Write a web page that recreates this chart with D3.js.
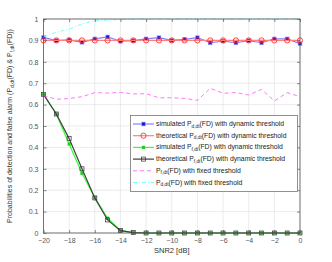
<!DOCTYPE html>
<html>
<head>
<meta charset="utf-8">
<script src="https://cdn.jsdelivr.net/npm/d3@7"></script>
<style>
body { margin: 0; background: #fff; }
text { font-family: "Liberation Sans", Arial, sans-serif; }
</style>
</head>
<body>
<script>
var width = 332;
var height = 262;

// data
var snr = [-20,-19,-18,-17,-16,-15,-14,-13,-12,-11,-10,-9,-8,-7,-6,-5,-4,-3,-2,-1,0];
var simPd = [0.914,0.899,0.902,0.891,0.907,0.916,0.896,0.899,0.907,0.913,0.900,0.905,0.913,0.889,0.897,0.889,0.899,0.889,0.907,0.907,0.885];
var theoPd = [0.9,0.9,0.9,0.9,0.9,0.9,0.9,0.9,0.9,0.9,0.9,0.9,0.9,0.9,0.9,0.9,0.9,0.9,0.9,0.9,0.9];
var simPf = [0.648,0.556,0.416,0.279,0.165,0.069,0.012,0.002,0,0,0,0,0,0,0,0,0,0,0,0,0];
var theoPf = [0.648,0.556,0.441,0.300,0.164,0.061,0.011,0.002,0,0,0,0,0,0,0,0,0,0,0,0,0];
var fixedPf = [0.642,0.625,0.628,0.637,0.656,0.654,0.657,0.650,0.651,0.632,0.632,0.629,0.620,0.676,0.653,0.656,0.645,0.671,0.617,0.656,0.637];
var fixedPd = [0.917,0.938,0.952,0.977,0.992,0.995,0.998,1,1,1,1,1,1,1,1,1,1,1,1,1,1];
var xTicks = [-20,-18,-16,-14,-12,-10,-8,-6,-4,-2,0];
var yTicks = [0,0.1,0.2,0.3,0.4,0.5,0.6,0.7,0.8,0.9,1];

var series = [
  {name: ["simulated P", "d,dt", "(FD) with dynamic threshold"], values: simPd, color: "#8080ff", marker: "bsq", dash: null},
  {name: ["theoretical P", "d,dt", "(FD) with dynamic threshold"], values: theoPd, color: "#ff8080", marker: "circle", dash: null},
  {name: ["simulated P", "f,dt", "(FD) with dynamic threshold"], values: simPf, color: "#33ff33", marker: "gx", dash: null},
  {name: ["theoretical P", "f,dt", "(FD) with dynamic threshold"], values: theoPf, color: "#404040", marker: "square", dash: null},
  {name: ["P", "f,dt", "(FD) with fixed threshold"], values: fixedPf, color: "#ff66ff", marker: null, dash: "4,3"},
  {name: ["P", "d,dt", "(FD) with fixed threshold"], values: fixedPd, color: "#66ffff", marker: null, dash: "4,2,1,2"}
];

var svg = d3.select("body").append("svg")
  .attr("width", width)
  .attr("height", height);

var x = d3.scaleLinear().domain([-20, 0]).range([43.5, 300]);
var y = d3.scaleLinear().domain([0, 1]).range([233, 19]);

// grid
svg.selectAll(".gx").data(xTicks).enter().append("line")
  .attr("x1", d => x(d)).attr("x2", d => x(d))
  .attr("y1", y(0)).attr("y2", y(1))
  .attr("stroke", "#e4e4e4").attr("stroke-width", 0.7);
svg.selectAll(".gy").data(yTicks).enter().append("line")
  .attr("x1", x(-20)).attr("x2", x(0))
  .attr("y1", d => y(d)).attr("y2", d => y(d))
  .attr("stroke", "#e4e4e4").attr("stroke-width", 0.7);

var line = d3.line().x((d, i) => x(snr[i])).y(d => y(d));

series.forEach(function(s) {
  svg.append("path")
    .datum(s.values)
    .attr("d", line)
    .attr("fill", "none")
    .attr("stroke", s.color)
    .attr("stroke-width", s.marker ? 1.2 : 0.9)
    .attr("stroke-dasharray", s.dash);
  if (s.marker) {
    s.values.forEach(function(v, i) {
      drawMarker(svg, s.marker, x(snr[i]), y(v));
    });
  }
});

function drawMarker(g, type, cx, cy) {
  if (type == "bsq") {
    g.append("rect").attr("x", cx - 2.2).attr("y", cy - 2.2).attr("width", 4.4).attr("height", 4.4)
      .attr("fill", "#8a8aff");
    g.append("rect").attr("x", cx - 1.4).attr("y", cy - 1.4).attr("width", 2.8).attr("height", 2.8)
      .attr("fill", "#1010d0");
  } else if (type == "circle") {
    g.append("circle").attr("cx", cx).attr("cy", cy).attr("r", 2.6)
      .attr("fill", "none").attr("stroke", "#ff3030").attr("stroke-width", 0.9);
  } else if (type == "gx") {
    g.append("rect").attr("x", cx - 1.6).attr("y", cy - 1.6).attr("width", 3.2).attr("height", 3.2)
      .attr("fill", "#22cc22");
  } else if (type == "square") {
    g.append("rect").attr("x", cx - 2).attr("y", cy - 2).attr("width", 4).attr("height", 4)
      .attr("fill", "none").attr("stroke", "#303030").attr("stroke-width", 0.7);
  }
}

// box and ticks
svg.append("rect")
  .attr("x", x(-20)).attr("y", y(1))
  .attr("width", x(0) - x(-20)).attr("height", y(0) - y(1))
  .attr("fill", "none").attr("stroke", "#555").attr("stroke-width", 0.8);

var xAxis = svg.append("g").attr("transform", "translate(0," + y(0) + ")")
  .call(d3.axisBottom(x).tickValues(xTicks).tickSize(-3).tickPadding(5).tickFormat(d3.format("d")));
var xAxisTop = svg.append("g").attr("transform", "translate(0," + y(1) + ")")
  .call(d3.axisTop(x).tickValues(xTicks).tickSize(-3).tickFormat(""));
var yAxis = svg.append("g").attr("transform", "translate(" + x(-20) + ",0)")
  .call(d3.axisLeft(y).tickValues(yTicks).tickSize(-3).tickPadding(5).tickFormat(d => d3.format("")(+d.toFixed(1))));
var yAxisRight = svg.append("g").attr("transform", "translate(" + x(0) + ",0)")
  .call(d3.axisRight(y).tickValues(yTicks).tickSize(-3).tickFormat(""));

[xAxis, xAxisTop, yAxis, yAxisRight].forEach(function(a) {
  a.select(".domain").remove();
  a.selectAll(".tick line").attr("stroke", "#555").attr("stroke-width", 0.7);
  a.selectAll("text").attr("fill", "#555").style("font-size", "7px")
    .style("font-family", "'Liberation Sans', Arial, sans-serif");
});

// axis labels
svg.append("text")
  .attr("x", x(-10)).attr("y", 253)
  .attr("text-anchor", "middle")
  .attr("fill", "#333").style("font-size", "7.5px")
  .text("SNR2 [dB]");

var yl = svg.append("text")
  .attr("transform", "translate(12," + y(0.5) + ") rotate(-90)")
  .attr("text-anchor", "middle")
  .attr("fill", "#333").style("font-size", "7px");
yl.append("tspan").text("Probabilities of detection and false alarm (P");
yl.append("tspan").attr("dy", 2).style("font-size", "5px").text("d,dt");
yl.append("tspan").attr("dy", -2).text("(FD) & P");
yl.append("tspan").attr("dy", 2).style("font-size", "5px").text("f,dt");
yl.append("tspan").attr("dy", -2).text("(FD))");

// legend
var lg = svg.append("g");
lg.append("rect")
  .attr("x", 130.5).attr("y", 115.5).attr("width", 167).attr("height", 76)
  .attr("fill", "#fff").attr("stroke", "#777").attr("stroke-width", 0.8);

series.forEach(function(s, i) {
  var ly = 124 + i * 11.7;
  lg.append("line")
    .attr("x1", 133).attr("x2", 154).attr("y1", ly).attr("y2", ly)
    .attr("stroke", s.color).attr("stroke-width", s.marker ? 1.2 : 0.9)
    .attr("stroke-dasharray", s.dash);
  if (s.marker) drawMarker(lg, s.marker, 143.5, ly);
  var t = lg.append("text").attr("x", 156).attr("y", ly + 2)
    .attr("fill", "#222").style("font-size", "6.8px");
  t.append("tspan").text(s.name[0]);
  t.append("tspan").attr("dy", 1.6).style("font-size", "4.8px").text(s.name[1]);
  t.append("tspan").attr("dy", -1.6).text(s.name[2]);
});
</script>
</body>
</html>
